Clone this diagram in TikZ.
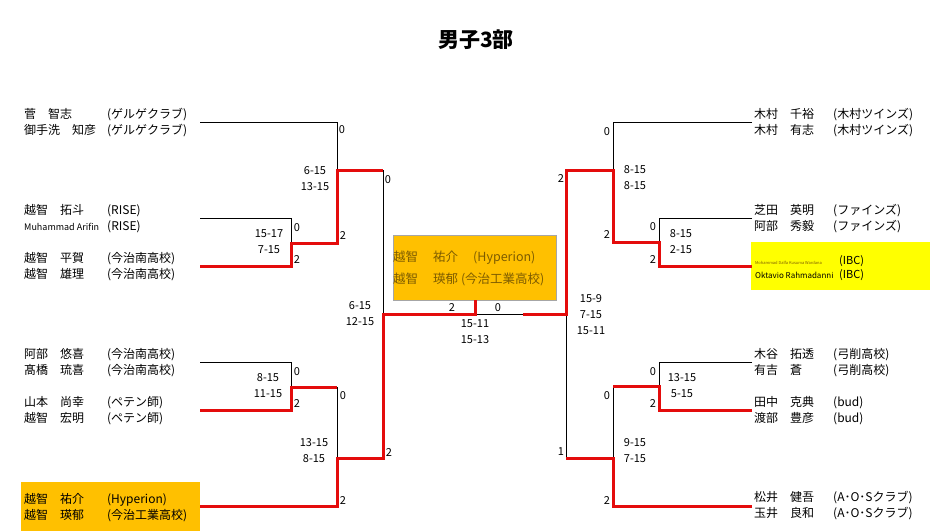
\documentclass[tikz,border=0pt]{standalone}
\usepackage{fontspec}
\setmainfont{Noto Sans CJK JP}
\definecolor{winred}{RGB}{228,12,12}
\definecolor{orng}{RGB}{255,192,0}
\definecolor{ylw}{RGB}{255,255,0}
\definecolor{brn}{RGB}{125,92,0}
\newcommand{\tml}[2]{\makebox[83pt][l]{#1}#2}
\newcommand{\tmr}[2]{\makebox[79pt][l]{#1}#2}
\begin{document}
\begin{tikzpicture}[x=1pt,y=-1pt,
  lose/.style={draw=black,line width=0.8pt},
  win/.style={draw=winred,line width=3pt},
  team/.style={anchor=west,align=left,inner sep=0pt,font=\fontsize{12}{16}\selectfont},
  sc/.style={inner sep=0pt,align=center,font=\fontsize{11}{16}\selectfont}]
\useasboundingbox (0,0) rectangle (951,531);
% boxes
\path[fill=orng] (21,482) rectangle (200,531);
\path[fill=ylw] (751,242) rectangle (930,290);
\node[draw=gray!70,fill=orng,minimum width=163pt,minimum height=65pt,anchor=north west,inner sep=0pt] (cbox) at (393,235) {};
% coordinates
\coordinate (a1) at (200,122);
\coordinate (j1) at (337,122);
\coordinate (j1m) at (337,170);
\coordinate (k1) at (383,170);
\coordinate (km) at (383,314);
\coordinate (a2) at (200,218);
\coordinate (j2t) at (291,218);
\coordinate (j2m) at (291,243);
\coordinate (j2b) at (291,266);
\coordinate (a3) at (200,266);
\coordinate (j2r) at (337,243);
\coordinate (a4) at (200,362);
\coordinate (j3t) at (291,362);
\coordinate (j3m) at (291,387);
\coordinate (j3b) at (291,410);
\coordinate (a5) at (200,410);
\coordinate (j4t) at (337,387);
\coordinate (j4m) at (337,458);
\coordinate (j4b) at (337,506);
\coordinate (a6) at (200,506);
\coordinate (k2) at (383,458);
\coordinate (c1) at (475,314);
\coordinate (c1u) at (c1 |- cbox.south);
\coordinate (c2) at (523,314);
\coordinate (kr) at (566,314);
\coordinate (kr1) at (566,170);
\coordinate (kr2) at (566,458);
\coordinate (m1) at (613,170);
\coordinate (m1t) at (613,122);
\coordinate (b1) at (752,122);
\coordinate (m1b) at (613,242);
\coordinate (m2) at (659,242);
\coordinate (m2t) at (659,218);
\coordinate (b2) at (752,218);
\coordinate (m2b) at (659,266);
\coordinate (b3) at (752,266);
\coordinate (m3) at (613,458);
\coordinate (m3t) at (613,386);
\coordinate (m3b) at (613,506);
\coordinate (b6) at (752,506);
\coordinate (m4) at (659,386);
\coordinate (m4t) at (659,362);
\coordinate (b4) at (752,362);
\coordinate (m4b) at (659,410);
\coordinate (b5) at (752,410);
% losing lines
\draw[lose] (a1) -- (j1) -- (j1m);
\draw[lose] (a2) -- (j2t) -- (j2m);
\draw[lose] (k1) -- (km);
\draw[lose] (a4) -- (j3t) -- (j3m);
\draw[lose] (j4t) -- (j4m);
\draw[lose] (c1) -- (c2);
\draw[lose] (b1) -- (m1t) -- (m1);
\draw[lose] (b2) -- (m2t) -- (m2);
\draw[lose] (kr) -- (kr2);
\draw[lose] (b4) -- (m4t) -- (m4);
\draw[lose] (m3t) -- (m3);
% winning lines
\draw[win] (a3) -- (j2b) -- (j2m) -- (j2r) -- (j1m) -- (k1);
\draw[win] (a5) -- (j3b) -- (j3m) -- (j4t);
\draw[win] (a6) -- (j4b) -- (j4m) -- (k2) -- (km) -- (c1) -- (c1u);
\draw[win] (c2) -- (kr) -- (kr1) -- (m1) -- (m1b) -- (m2) -- (m2b) -- (b3);
\draw[win] (b5) -- (m4b) -- (m4) -- (m3t);
\draw[win] (b6) -- (m3b) -- (m3) -- (kr2);
% title
\node[inner sep=0pt,font=\fontsize{21}{24}\selectfont\bfseries] (title) at (476,40) {男子3部};
% left teams
\node[team] (t1) at (24,123) {\tml{菅　智志}{(ゲルゲクラブ)}\\\tml{御手洗　知彦}{(ゲルゲクラブ)}};
\node[team] (t2) at (24,219) {\tml{越智　拓斗}{(RISE)}\\\tml{{\fontsize{9}{10}\selectfont Muhammad Arifin}}{(RISE)}};
\node[team] (t3) at (24,267) {\tml{越智　平賀}{(今治南高校)}\\\tml{越智　雄理}{(今治南高校)}};
\node[team] (t4) at (24,363) {\tml{阿部　悠喜}{(今治南高校)}\\\tml{髙橋　琉喜}{(今治南高校)}};
\node[team] (t5) at (24,411) {\tml{山本　尚幸}{(ペテン師)}\\\tml{越智　宏明}{(ペテン師)}};
\node[team] (t6) at (24,508) {\tml{越智　祐介}{(Hyperion)}\\\tml{越智　瑛郁}{(今治工業高校)}};
% right teams
\node[team] (r1) at (754,123) {\tmr{木村　千裕}{(木村ツインズ)}\\\tmr{木村　有志}{(木村ツインズ)}};
\node[team] (r2) at (754,219) {\tmr{芝田　英明}{(ファインズ)}\\\tmr{阿部　秀毅}{(ファインズ)}};
\node[anchor=west,align=left,inner sep=0pt,font=\fontsize{11}{13.5}\selectfont] (r3) at (755,268) {\makebox[84pt][l]{\textcolor{brn}{\fontsize{4}{5}\selectfont Mohammad Dalfa Kusuma Wardana}}(IBC)\\\makebox[84pt][l]{\fontsize{8}{10}\selectfont Oktavio Rahmadanni}(IBC)};
\node[team] (r4) at (754,363) {\tmr{木谷　拓透}{(弓削高校)}\\\tmr{有吉　蒼}{(弓削高校)}};
\node[team] (r5) at (754,411) {\tmr{田中　克典}{(bud)}\\\tmr{渡部　豊彦}{(bud)}};
\node[team] (r6) at (754,506) {\tmr{松井　健吾}{(A･O･Sクラブ)}\\\tmr{玉井　良和}{(A･O･Sクラブ)}};
% centre champion
\node[anchor=west,align=left,inner sep=0pt,text=brn,font=\fontsize{12.5}{22}\selectfont] (ctext) at (393,268) {\makebox[40pt][l]{越智}\makebox[40pt][l]{祐介}(Hyperion)\\\makebox[40pt][l]{越智}瑛郁 (今治工業高校)};
% scores
\node[sc] (s1) at (342,130) {0};
\node[sc] (s2) at (315,179) {6-15\\13-15};
\node[sc] (s3) at (297,228) {0};
\node[sc] (s4) at (297,260) {2};
\node[sc] (s5) at (269,242) {15-17\\7-15};
\node[sc] (s6) at (343,236) {2};
\node[sc] (s7) at (388,180) {0};
\node[sc] (s8) at (360,314) {6-15\\12-15};
\node[sc] (s9) at (297,372) {0};
\node[sc] (s10) at (297,403) {2};
\node[sc] (s11) at (268,386) {8-15\\11-15};
\node[sc] (s12) at (343,396) {0};
\node[sc] (s13) at (314,451) {13-15\\8-15};
\node[sc] (s14) at (343,500) {2};
\node[sc] (s15) at (389,452) {2};
\node[sc] (s16) at (452,308) {2};
\node[sc] (s17) at (498,308) {0};
\node[sc] (s18) at (475,332) {15-11\\15-13};
\node[sc] (s19) at (591,315) {15-9\\7-15\\15-11};
\node[sc] (s20) at (607,132) {0};
\node[sc] (s21) at (635,178) {8-15\\8-15};
\node[sc] (s22) at (561,179) {2};
\node[sc] (s23) at (653,227) {0};
\node[sc] (s24) at (607,235) {2};
\node[sc] (s25) at (681,242) {8-15\\2-15};
\node[sc] (s26) at (653,260) {2};
\node[sc] (s27) at (653,372) {0};
\node[sc] (s28) at (682,386) {13-15\\5-15};
\node[sc] (s29) at (653,403) {2};
\node[sc] (s30) at (607,396) {0};
\node[sc] (s31) at (635,451) {9-15\\7-15};
\node[sc] (s32) at (561,452) {1};
\node[sc] (s33) at (607,500) {2};
\end{tikzpicture}
\end{document}
